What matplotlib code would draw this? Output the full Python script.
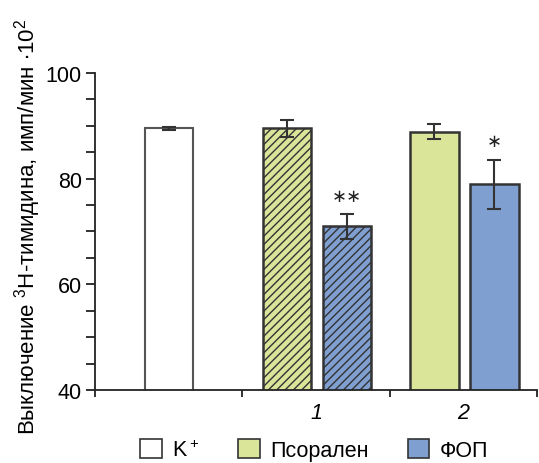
import matplotlib
matplotlib.use("Agg")
import matplotlib.pyplot as plt
from matplotlib.patches import Patch

plt.rcParams['font.family'] = ['Liberation Sans', 'DejaVu Sans']
plt.rcParams['mathtext.fontset'] = 'custom'
plt.rcParams['mathtext.rm'] = 'Liberation Sans'
plt.rcParams['mathtext.it'] = 'Liberation Sans:italic'
plt.rcParams['mathtext.bf'] = 'Liberation Sans:bold'
plt.rcParams['hatch.linewidth'] = 1.0

# Data
labels = ["K$^+$", "Псорален", "ФОП"]
group_labels = ["1", "2"]
k_value, k_err = 89.5, 0.3
psoralen_values = [89.5, 88.9]
psoralen_errs = [1.6, 1.4]
fop_values = [71.0, 78.9]
fop_errs = [2.4, 4.6]
fop_marks = ["∗∗", "∗"]
mark_levels = [76.8, 87.2]

white = "#ffffff"
green = "#dbe59a"
blue = "#7f9fd0"
edge = "#333333"

fig = plt.figure(figsize=(5.39, 4.64), dpi=100)
ax = fig.add_axes([95/539, 73/464, 442/539, 317/464])

w = 0.33
ekw = dict(ecolor=edge, elinewidth=1.5, capsize=4.7, capthick=1.5)
ax.bar(0.503, k_value, w, bottom=0, color=white, edgecolor="#555555", linewidth=1.5,
       yerr=k_err, error_kw=ekw)
hatches = ["////", None]
for i in range(2):
    g = i + 1
    ax.bar(g + 0.303, psoralen_values[i], w, color=green, edgecolor=edge, linewidth=1.8,
           hatch=hatches[i], yerr=psoralen_errs[i], error_kw=ekw)
    ax.bar(g + 0.711, fop_values[i], w, color=blue, edgecolor=edge, linewidth=1.8,
           hatch=hatches[i], yerr=fop_errs[i], error_kw=ekw)
    ax.text(g + 0.711, mark_levels[i], fop_marks[i], ha='center', va='center',
            fontsize=13, color="#222222", family=['DejaVu Sans'])

ax.set_xlim(0, 3)
ax.set_ylim(40, 100)
for s in ['top', 'right']:
    ax.spines[s].set_visible(False)
for s in ['left', 'bottom']:
    ax.spines[s].set_linewidth(1.3)
    ax.spines[s].set_color("#222222")

ax.set_yticks([40, 60, 80, 100])
ax.set_yticks(range(40, 101, 5), minor=True)
ax.tick_params(axis='y', which='both', length=6.5, width=1.3, color="#222222",
               labelsize=15.5, direction='out', pad=3)
ax.set_xticks([0, 1, 2, 3])
ax.set_xticklabels([''] * 4)
ax.set_xticks([1.5, 2.5], minor=True)
ax.set_xticklabels(group_labels, minor=True, fontsize=15.5, style='italic')
ax.tick_params(axis='x', which='major', length=5, width=1.3, color="#222222", direction='out')
ax.tick_params(axis='x', which='minor', length=0, pad=9)

ax.set_ylabel("Выключение $^{3}$H-тимидина, имп/мин $\\bullet$10$^{2}$", fontsize=16)
ax.yaxis.set_label_coords(-0.117, 0.517)

handles = [Patch(facecolor=c, edgecolor=edge, linewidth=1.2) for c in (white, green, blue)]
fig.legend(handles, labels, loc='center left', bbox_to_anchor=(140/539, 0.028), ncol=3,
           frameon=False, fontsize=15.5, handlelength=1.0, handleheight=1.0,
           handletextpad=0.5, columnspacing=1.8, borderaxespad=0, borderpad=0)

fig.savefig("out.png", dpi=100)
